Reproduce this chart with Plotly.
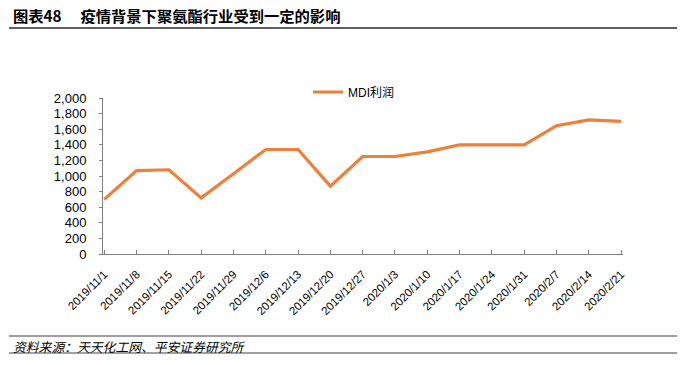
import plotly.graph_objects as go

categories = ["2019/11/1", "2019/11/8", "2019/11/15", "2019/11/22", "2019/11/29",
              "2019/12/6", "2019/12/13", "2019/12/20", "2019/12/27", "2020/1/3",
              "2020/1/10", "2020/1/17", "2020/1/24", "2020/1/31", "2020/2/7",
              "2020/2/14", "2020/2/21"]
mdi_profit = [700, 1070, 1080, 720, 1030, 1340, 1340, 870, 1250, 1250,
              1310, 1400, 1400, 1400, 1645, 1720, 1700]
y_ticks = [0, 200, 400, 600, 800, 1000, 1200, 1400, 1600, 1800, 2000]

title_text = "<b>图表48　 疫情背景下聚氨酯行业受到一定的影响</b>"
source_text = "<i>资料来源：天天化工网、平安证券研究所</i>"

W, H = 685, 365
L, R, T, B = 103, 62, 98, 111
pw, ph = W - L - R, H - T - B

def px_x(x):
    return (x - L) / pw

def px_y(y):
    return (H - B - y) / ph

font_main = "Liberation Sans, Arial, Noto Sans CJK SC, sans-serif"
font_cjk = "Liberation Sans, Noto Sans CJK SC, sans-serif"

fig = go.Figure()
fig.add_trace(go.Scatter(
    x=list(range(len(categories))), y=mdi_profit, mode="lines", name="MDI利润",
    line=dict(color="#F07F3A", width=3.2),
))

fig.update_layout(
    width=W, height=H,
    margin=dict(l=L, r=R, t=T, b=B, autoexpand=False),
    paper_bgcolor="white", plot_bgcolor="white",
    font=dict(family=font_main, size=12, color="#000000"),
    showlegend=True,
    legend=dict(orientation="h", x=px_x(308), y=px_y(92), xanchor="left", yanchor="middle",
                font=dict(size=12, family=font_cjk), bgcolor="rgba(0,0,0,0)",
                itemwidth=30),
    xaxis=dict(
        tickmode="array", tickvals=list(range(len(categories))), ticktext=categories,
        tickangle=-45, range=[-0.04, 16.06], showgrid=False, zeroline=False,
        showline=True, linecolor="#808080", linewidth=1, automargin=False,
        ticks="inside", ticklen=4, tickcolor="#808080",
        ticklabelstandoff=8,
        tickfont=dict(size=11.5, family=font_main),
    ),
    yaxis=dict(
        range=[0, 2000], tickvals=y_ticks, tickformat=",d",
        showgrid=False, zeroline=False, showline=True, linecolor="#808080", linewidth=1,
        automargin=False, ticks="outside", ticklen=3, tickcolor="#808080",
        ticklabelstandoff=10,
        tickfont=dict(size=13, family=font_main),
    ),
)

shapes = [
    dict(type="line", xref="paper", yref="paper", x0=px_x(9), x1=px_x(677),
         y0=px_y(28), y1=px_y(28), line=dict(color="#606060", width=2)),
    dict(type="line", xref="paper", yref="paper", x0=px_x(9), x1=px_x(677),
         y0=px_y(336), y1=px_y(336), line=dict(color="#808080", width=1.5)),
    dict(type="line", xref="paper", yref="paper", x0=px_x(9), x1=px_x(677),
         y0=px_y(353), y1=px_y(353), line=dict(color="#808080", width=1.5)),
]
fig.update_layout(shapes=shapes)

fig.add_annotation(text=title_text, xref="paper", yref="paper", x=px_x(11), y=px_y(15),
                   xanchor="left", yanchor="middle", showarrow=False,
                   font=dict(size=15.3, family="Noto Sans CJK SC, sans-serif", color="#000000"))
fig.add_annotation(text=source_text, xref="paper", yref="paper", x=px_x(11), y=px_y(346),
                   xanchor="left", yanchor="middle", showarrow=False,
                   font=dict(size=12.8, family="Noto Sans CJK SC, sans-serif", color="#000000"))

fig.write_html("out.html", config={"displayModeBar": False},
               post_script="document.body.style.margin='0';document.body.style.padding='0';")
